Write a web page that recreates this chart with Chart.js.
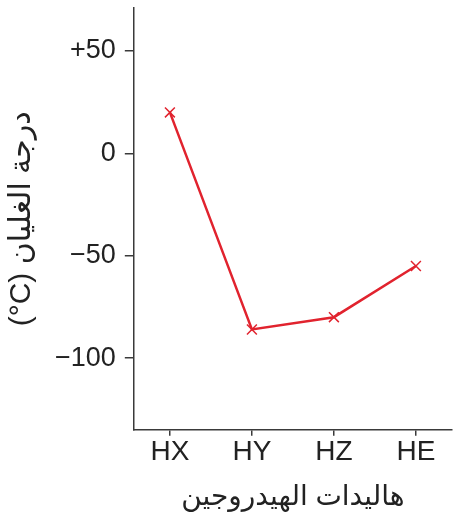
<!DOCTYPE html>
<html>
<head>
<meta charset="utf-8">
<script src="https://cdn.jsdelivr.net/npm/chart.js@4.4.0/dist/chart.umd.min.js"></script>
<style>
    body { margin: 0; background: #fff; }
    #wrap { width: 455px; height: 519px; }
</style>
</head>
<body>
<div id="wrap"><canvas id="myChart" width="455" height="519"></canvas></div>
<script>
const halides = ['HX', 'HY', 'HZ', 'HE']
const boilingPoints = [20, -86, -80, -55]
const yTicks = [-100, -50, 0, 50]

const xTitle = 'هاليدات الهيدروجين'
const yTitle = '\u202Bدرجة الغليان \u2066(°C)\u2069\u202C'

const red = '#e1232e'
const axisColor = '#3a3a3a'
const fontFamily = "'Liberation Sans', Arial, 'DejaVu Sans', sans-serif"

const ctx = document.getElementById('myChart')

const points = boilingPoints.map((v, i) => ({ x: i, y: v }))

// drop the extra room chart.js keeps for edge tick labels
const noEdgePadding = (axis) => {
    axis.paddingTop = 0
    axis.paddingBottom = 0
    axis.paddingLeft = 0
    axis.paddingRight = 0
}

new Chart(ctx, {
    type: 'line',
    data: {
        datasets: [{
            data: points,
            borderColor: red,
            backgroundColor: red,
            borderWidth: 2.5,
            pointStyle: 'crossRot',
            pointRadius: 7,
            pointBorderWidth: 1.5,
            tension: 0,
            fill: false
        }]
    },
    options: {
        responsive: false,
        animation: false,
        layout: { autoPadding: false, padding: { top: 8, right: 3, left: 4, bottom: 5 } },
        plugins: { legend: { display: false }, tooltip: { enabled: false } },
        scales: {
            x: {
                type: 'linear',
                min: -0.44,
                max: 3.44,
                afterFit: noEdgePadding,
                border: { color: axisColor, width: 1.5 },
                grid: { drawOnChartArea: false, drawTicks: true, tickLength: 6, color: axisColor, lineWidth: 1.5 },
                ticks: {
                    stepSize: 1,
                    includeBounds: false,
                    color: '#222',
                    padding: 0,
                    maxRotation: 0,
                    font: { size: 28, family: fontFamily },
                    callback: (v) => halides[v] ?? ''
                },
                title: {
                    display: true,
                    text: xTitle,
                    color: '#222',
                    padding: { top: 11, bottom: 0 },
                    font: { size: 28, family: fontFamily }
                }
            },
            y: {
                min: -135,
                max: 71,
                afterFit: noEdgePadding,
                border: { color: axisColor, width: 1.5 },
                grid: { drawOnChartArea: false, drawTicks: true, tickLength: 9, color: axisColor, lineWidth: 1.5 },
                afterBuildTicks: (axis) => {
                    axis.ticks = yTicks.map(v => ({ value: v }))
                },
                ticks: {
                    color: '#222',
                    padding: 9,
                    font: { size: 27, family: fontFamily },
                    callback: (v) => v > 0 ? '+' + v : v < 0 ? '\u2212' + Math.abs(v) : '0'
                },
                title: {
                    display: true,
                    text: yTitle,
                    color: '#222',
                    padding: { top: 0, bottom: 6 },
                    font: { size: 30, family: fontFamily }
                }
            }
        }
    }
})
</script>
</body>
</html>
